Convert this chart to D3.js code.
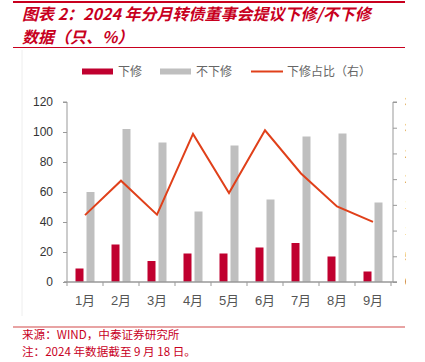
<!DOCTYPE html>
<html lang="zh">
<head>
<meta charset="utf-8">
<title>2024年分月转债董事会提议下修/不下修数据</title>
<script src="https://cdn.jsdelivr.net/npm/d3@7/dist/d3.min.js"></script>
<style>
  body { margin: 0; background: #fff; }
  svg { display: block; font-family: "Liberation Sans", "Noto Sans CJK SC", sans-serif; }
</style>
</head>
<body>
<svg width="425" height="362"></svg>
<script>
// data
var months = ["1月", "2月", "3月", "4月", "5月", "6月", "7月", "8月", "9月"];
var xiaxiu = [9, 25, 14, 19, 19, 23, 26, 17, 7];
var buxiaxiu = [60, 102, 93, 47, 91, 55, 97, 99, 53];
var ratio = [13.0, 19.7, 13.1, 28.8, 17.3, 29.5, 21.1, 14.7, 11.7];
var leftTicks = [0, 20, 40, 60, 80, 100, 120];
var rightTicks = [0, 5, 10, 15, 20, 25, 30, 35];

var svg = d3.select("svg");
var red = "#c0002f", gray = "#bfbfbf", lineCol = "#e0401a", titleRed = "#c8001e";

// the source picture is cut off at the right, so clip the same way
svg.append("defs").append("clipPath").attr("id", "cut")
  .append("rect").attr("x", 0).attr("y", 0).attr("width", 406).attr("height", 362);

var root = svg.append("g").attr("clip-path", "url(#cut)");

// title block
root.append("line").attr("x1", 13).attr("x2", 405).attr("y1", 2).attr("y2", 2)
  .attr("stroke", titleRed).attr("stroke-width", 2);
root.append("text").attr("x", 22).attr("y", 20)
  .attr("fill", titleRed)
  .style("font-family", "'Noto Sans CJK SC', sans-serif")
  .style("font-size", "16px").style("font-weight", "bold").style("font-style", "italic")
  .text("图表 2：2024 年分月转债董事会提议下修/不下修");
root.append("text").attr("x", 22).attr("y", 43)
  .attr("fill", titleRed)
  .style("font-family", "'Noto Sans CJK SC', sans-serif")
  .style("font-size", "16px").style("font-weight", "bold").style("font-style", "italic")
  .text("数据（只、%）");
root.append("line").attr("x1", 13).attr("x2", 405).attr("y1", 47.5).attr("y2", 47.5)
  .attr("stroke", titleRed).attr("stroke-width", 1);

// faint chart frame edge
root.append("line").attr("x1", 22).attr("x2", 22).attr("y1", 50).attr("y2", 316)
  .attr("stroke", "#eeeeee");

var margin = {left: 67, top: 102, right: 391, bottom: 282};

var x = d3.scaleBand().domain(months).range([margin.left, margin.right]);
var yL = d3.scaleLinear().domain([0, 120]).range([margin.bottom, margin.top]);
var yR = d3.scaleLinear().domain([0, 35]).range([margin.bottom, margin.top]);

// left axis
var axL = root.append("g").attr("transform", "translate(" + margin.left + ",0)")
  .call(d3.axisLeft(yL).tickValues(leftTicks).tickSize(4).tickPadding(10));
axL.select(".domain").attr("stroke", "#999").attr("d", "M-4," + margin.top + "H0V" + margin.bottom);
axL.selectAll(".tick line").attr("stroke", "#999");
axL.selectAll("text").style("font-size", "12px").attr("fill", "#333")
  .style("font-family", "'Liberation Sans', sans-serif");

// right axis (labels are cut by the picture edge, as in the source)
var axR = root.append("g").attr("transform", "translate(393,0)")
  .call(d3.axisRight(yR).tickValues(rightTicks).tickSize(4).tickPadding(8)
    .tickFormat(function(d) { return d + "%"; }));
axR.select(".domain").attr("stroke", "#999").attr("d", "M4," + margin.top + "H0V" + margin.bottom);
axR.selectAll(".tick line").attr("stroke", "#999");
axR.selectAll("text").style("font-size", "12px").attr("fill", "#333");

// bars
var bw = 8;
var bars = root.append("g");
bars.selectAll(".r").data(months).enter().append("rect")
  .attr("x", function(d) { return x(d) + x.bandwidth() / 2 - bw - 1.5; })
  .attr("y", function(d, i) { return yL(xiaxiu[i]); })
  .attr("width", bw)
  .attr("height", function(d, i) { return yL(0) - yL(xiaxiu[i]); })
  .attr("fill", red);
bars.selectAll(".g").data(months).enter().append("rect")
  .attr("x", function(d) { return x(d) + x.bandwidth() / 2 + 1.5; })
  .attr("y", function(d, i) { return yL(buxiaxiu[i]); })
  .attr("width", bw)
  .attr("height", function(d, i) { return yL(0) - yL(buxiaxiu[i]); })
  .attr("fill", gray);

// bottom axis
var axB = root.append("g").attr("transform", "translate(0," + margin.bottom + ")")
  .call(d3.axisBottom(x).tickSize(0).tickPadding(14));
axB.select(".domain").attr("stroke", "#999").attr("stroke-width", 1.5)
  .attr("d", "M64,0H397");
axB.selectAll("text").style("font-size", "13px").attr("fill", "#555")
  .style("font-family", "'Liberation Sans', 'Noto Sans CJK SC', sans-serif");
root.append("g").selectAll("line").data(months.concat(["end"])).enter().append("line")
  .attr("x1", function(d, i) { return margin.left + i * x.bandwidth(); })
  .attr("x2", function(d, i) { return margin.left + i * x.bandwidth(); })
  .attr("y1", margin.bottom).attr("y2", margin.bottom + 4)
  .attr("stroke", "#999");

// ratio line
var line = d3.line()
  .x(function(d, i) { return x(months[i]) + x.bandwidth() / 2; })
  .y(function(d) { return yR(d); });
root.append("path").datum(ratio).attr("d", line)
  .attr("fill", "none").attr("stroke", lineCol).attr("stroke-width", 2)
  .attr("stroke-linejoin", "miter");

// legend
var lg = root.append("g").style("font-size", "12px").attr("fill", "#666")
  .style("font-family", "'Noto Sans CJK SC', sans-serif");
lg.append("rect").attr("x", 82).attr("y", 68.5).attr("width", 31).attr("height", 6).attr("fill", red);
lg.append("text").attr("x", 118).attr("y", 76).text("下修");
lg.append("rect").attr("x", 160).attr("y", 68.5).attr("width", 31).attr("height", 6).attr("fill", gray);
lg.append("text").attr("x", 196).attr("y", 76).text("不下修");
lg.append("line").attr("x1", 251).attr("x2", 283).attr("y1", 71.5).attr("y2", 71.5)
  .attr("stroke", lineCol).attr("stroke-width", 2);
lg.append("text").attr("x", 287).attr("y", 76).text("下修占比（右）");

// source / note
root.append("line").attr("x1", 13).attr("x2", 405).attr("y1", 327).attr("y2", 327)
  .attr("stroke", "#e08585").attr("stroke-width", 1.5);
root.append("text").attr("x", 22).attr("y", 339).attr("fill", titleRed)
  .style("font-size", "11.6px").style("font-family", "'Noto Sans CJK SC', sans-serif")
  .text("来源：WIND，中泰证券研究所");
root.append("text").attr("x", 22).attr("y", 356).attr("fill", titleRed)
  .style("font-size", "11.6px").style("font-family", "'Noto Sans CJK SC', sans-serif")
  .text("注：2024 年数据截至 9 月 18 日。");
</script>
</body>
</html>
